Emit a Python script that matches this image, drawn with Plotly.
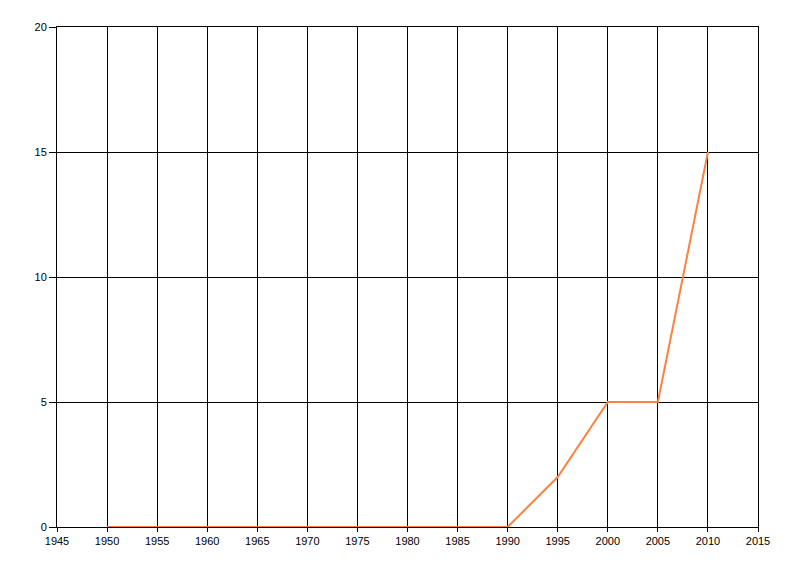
import plotly.graph_objects as go

years = [1950, 1955, 1960, 1965, 1970, 1975, 1980, 1985, 1990, 1995, 2000, 2005, 2010]
values = [0, 0, 0, 0, 0, 0, 0, 0, 0, 2, 5, 5, 15]

fig = go.Figure()
fig.add_trace(go.Scatter(x=years, y=values, mode="lines",
                         line=dict(color="rgb(255,128,64)", width=2),
                         showlegend=False, hoverinfo="x+y"))

axis_common = dict(showgrid=True, gridcolor="black", gridwidth=1,
                   showline=True, linecolor="black", linewidth=1, mirror=True,
                   zeroline=False, ticks="outside", tickcolor="black",
                   tickfont=dict(family="Liberation Sans, Arial, sans-serif", size=11, color="black"))

fig.update_layout(
    width=800, height=576,
    margin=dict(l=49, r=50, t=19, b=57),
    paper_bgcolor="white", plot_bgcolor="white",
    xaxis=dict(range=[1945, 2015], tickmode="linear", tick0=1945, dtick=5,
               ticklen=4, tickwidth=1, **axis_common),
    yaxis=dict(range=[0, 20], tickmode="linear", tick0=0, dtick=5,
               ticklen=7, tickwidth=1, **axis_common),
)

fig.write_html("out.html")
